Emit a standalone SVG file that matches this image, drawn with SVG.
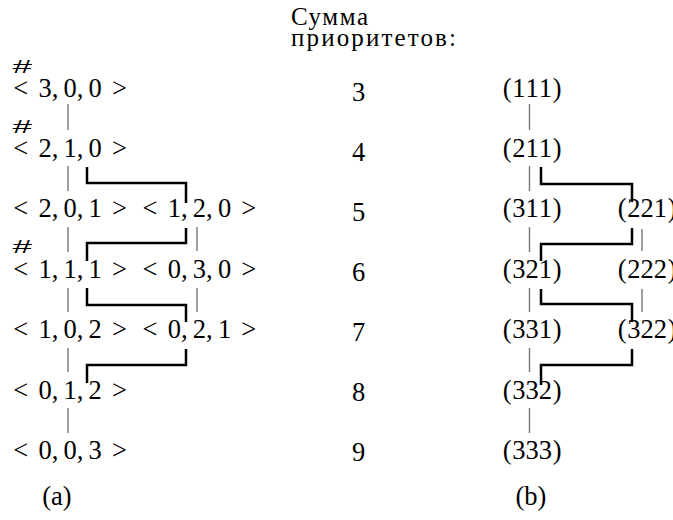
<svg xmlns="http://www.w3.org/2000/svg" width="673" height="520" viewBox="0 0 673 520" font-family="'Liberation Serif', 'Times New Roman', serif">
<style>
.t{font-family:'Liberation Serif','Times New Roman',serif;font-size:26.5px;fill:#000}
.hd{font-family:'Liberation Serif','Times New Roman',serif;font-size:25px;fill:#000}
.h{font-family:'Liberation Sans',Arial,sans-serif;font-size:19px;fill:#000}
.n{font-family:'Liberation Serif','Times New Roman',serif;font-size:26.5px;fill:#000;text-anchor:middle}
.g{stroke:#777;stroke-width:1.4;fill:none}
.c{stroke:#000;stroke-width:2.5;fill:none;stroke-linejoin:miter;stroke-linecap:butt}
</style>
<rect width="673" height="520" fill="#fff"/>
<g id="header">
<text class="hd" x="291" y="25" textLength="77">Сумма</text>
<text class="hd" x="291" y="45.5" textLength="165">приоритетов:</text>
</g>
<g id="a-300"><text class="h" transform="translate(12.5,72.5) scale(1.85,1)">#</text><text class="t" x="13.3 38.5 51.7 63.5 76.8 88.6 112" y="96.5">&lt;3,0,0&gt;</text></g>
<g id="a-210"><text class="h" transform="translate(12.5,132.5) scale(1.85,1)">#</text><text class="t" x="13.3 38.5 51.7 63.5 76.8 88.6 112" y="157">&lt;2,1,0&gt;</text></g>
<g id="a-201"><text class="t" x="13.3 38.5 51.7 63.5 76.8 88.6 112" y="217">&lt;2,0,1&gt;</text></g>
<g id="a-120"><text class="t" x="142.6 167.8 181 192.8 206.1 217.9 241.3" y="217">&lt;1,2,0&gt;</text></g>
<g id="a-111"><text class="h" transform="translate(12.5,252.5) scale(1.85,1)">#</text><text class="t" x="13.3 38.5 51.7 63.5 76.8 88.6 112" y="278">&lt;1,1,1&gt;</text></g>
<g id="a-030"><text class="t" x="142.6 167.8 181 192.8 206.1 217.9 241.3" y="278">&lt;0,3,0&gt;</text></g>
<g id="a-102"><text class="t" x="13.3 38.5 51.7 63.5 76.8 88.6 112" y="338">&lt;1,0,2&gt;</text></g>
<g id="a-021"><text class="t" x="142.6 167.8 181 192.8 206.1 217.9 241.3" y="338">&lt;0,2,1&gt;</text></g>
<g id="a-012"><text class="t" x="13.3 38.5 51.7 63.5 76.8 88.6 112" y="398.5">&lt;0,1,2&gt;</text></g>
<g id="a-003"><text class="t" x="13.3 38.5 51.7 63.5 76.8 88.6 112" y="459">&lt;0,0,3&gt;</text></g>
<g id="sums">
<text class="n" x="358.5" y="101">3</text>
<text class="n" x="358.5" y="161">4</text>
<text class="n" x="358.5" y="221">5</text>
<text class="n" x="358.5" y="281">6</text>
<text class="n" x="358.5" y="341">7</text>
<text class="n" x="358.5" y="401">8</text>
<text class="n" x="358.5" y="461">9</text>
</g>
<g id="b-111"><text class="t" x="502.7 512.3 525.6 538.8 552.8" y="96.5">(111)</text></g>
<g id="b-211"><text class="t" x="502.7 512.3 525.6 538.8 552.8" y="157">(211)</text></g>
<g id="b-311"><text class="t" x="502.7 512.3 525.6 538.8 552.8" y="217">(311)</text></g>
<g id="b-221"><text class="t" x="617.7 627.3 640.6 653.8 667.8" y="217">(221)</text></g>
<g id="b-321"><text class="t" x="502.7 512.3 525.6 538.8 552.8" y="278">(321)</text></g>
<g id="b-222"><text class="t" x="617.7 627.3 640.6 653.8 667.8" y="278">(222)</text></g>
<g id="b-331"><text class="t" x="502.7 512.3 525.6 538.8 552.8" y="338">(331)</text></g>
<g id="b-322"><text class="t" x="617.7 627.3 640.6 653.8 667.8" y="338">(322)</text></g>
<g id="b-332"><text class="t" x="502.7 512.3 525.6 538.8 552.8" y="398.5">(332)</text></g>
<g id="b-333"><text class="t" x="502.7 512.3 525.6 538.8 552.8" y="459">(333)</text></g>
<g id="captions">
<text class="n" x="57" y="505">(a)</text>
<text class="n" x="531" y="505">(b)</text>
</g>
<g id="connectors">
<path class="g" d="M68 104V130M68 166V191M68 227V252M68 288V312M68 348V372M68 408V433M197 227V251M197 288V312"/>
<path class="g" d="M529.5 104V130M529.5 166V191M529.5 227V252M529.5 288V312M529.5 348V372M529.5 408V433M642 229V251M642 289V312"/>
<path class="c" d="M87 167V183H186V203M186 228V243H87V261M87 288V305H186V322M186 349V365H87V383"/>
<path class="c" d="M541 167V184H632V202M632 228V244H541V261M541 289V304H632V322M632 349V365H541V385"/>
</g>
</svg>
